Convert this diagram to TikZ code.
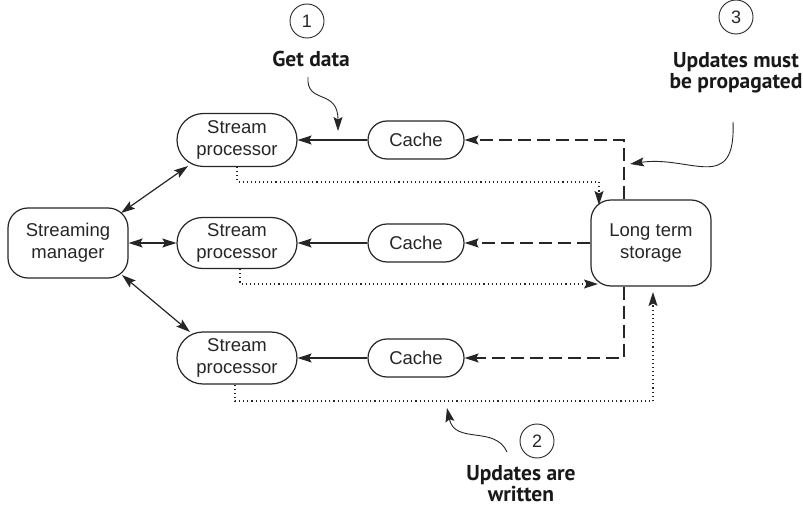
\documentclass[tikz,border=0pt]{standalone}
\usepackage{fontspec}
\setmainfont{Liberation Sans}
\newfontfamily\annfont{PT Sans}
\usetikzlibrary{arrows.meta,shapes.misc}
\begin{document}
\begin{tikzpicture}[x=1pt,y=-1pt,
  line width=1.2pt, draw=black!85,
  tip/.style={-{Stealth[length=14pt,width=9pt,inset=2.5pt]}},
  dtip/.style={{Stealth[length=14pt,width=9pt,inset=2.5pt]}-{Stealth[length=14pt,width=9pt,inset=2.5pt]}},
  pill/.style={draw, rounded rectangle, font=\fontsize{18.5}{20}\selectfont, align=center, inner sep=0pt, text=black!85},
  box/.style={draw, rounded corners=20pt, font=\fontsize{18.5}{20}\selectfont, align=center, inner sep=0pt, text=black!85},
  ann/.style={font=\annfont\bfseries\fontsize{21.5}{23}\selectfont, align=center, text=black!90},
  num/.style={draw, circle, minimum size=34pt, inner sep=0pt, line width=0.9pt, font=\fontsize{18}{20}\selectfont, text=black!85},
  dsh/.style={dash pattern=on 13pt off 6pt},
  dot/.style={line width=1.1pt, dash pattern=on 1.1pt off 3pt},
]
\useasboundingbox (0,0) rectangle (803,513);
% nodes
\node[box, minimum width=120pt, minimum height=70pt] (sm) at (68,243) {Streaming\\[2pt]manager};
\node[pill, minimum width=120pt, minimum height=53pt] (sp1) at (237,140) {Stream\\[2pt]processor};
\node[pill, minimum width=120pt, minimum height=51pt] (sp2) at (237,243) {Stream\\[2pt]processor};
\node[pill, minimum width=120pt, minimum height=52pt] (sp3) at (237,358) {Stream\\[2pt]processor};
\node[pill, minimum width=96pt, minimum height=38pt] (c1) at (416,140) {Cache};
\node[pill, minimum width=96pt, minimum height=38pt] (c2) at (416,243) {Cache};
\node[pill, minimum width=96pt, minimum height=38pt] (c3) at (416,358) {Cache};
\node[box, minimum width=120pt, minimum height=86pt] (lts) at (651,243) {Long term\\[2pt]storage};

% cache -> processor
\draw[tip] (c1.west) -- (sp1.east);
\draw[tip] (c2.west) -- (sp2.east);
\draw[tip] (c3.west) -- (sp3.east);

% storage -> cache (dashed)
\coordinate (d1) at (624,140);
\coordinate (d3) at (624,358);
\draw[tip, dsh] (lts.north -| d1) -- (d1) -- (c1.east);
\draw[tip, dsh] (lts.west) -- (c2.east);
\draw[tip, dsh] (lts.south -| d3) -- (d3) -- (c3.east);

% processor -> storage (dotted)
\coordinate (e1) at (237,182);
\coordinate (e1b) at (599,182);
\coordinate (e1c) at (599,205);
\draw[tip, dot] (sp1.south) -- (e1) -- (e1b) -- (e1c);
\coordinate (e2) at (240,284);
\coordinate (e2b) at (598,284);
\draw[tip, dot] (sp2.south -| e2) -- (e2) -- (e2b);
\coordinate (e3) at (235,401);
\coordinate (e3b) at (653,401);
\coordinate (e3c) at (653,292);
\draw[tip, dot] (sp3.south -| e3) -- (e3) -- (e3b) -- (e3c);

% manager <-> processors
\coordinate (m1) at (121,213);
\coordinate (p1) at (188,166);
\draw[dtip] (m1) -- (p1);
\draw[dtip] (sm.east) -- (sp2.west);
\coordinate (m3) at (122,275);
\coordinate (p3) at (190,332);
\draw[dtip] (m3) -- (p3);

% annotations
\node[num] (n1) at (307,21) {1};
\node[ann] (a1) at (311,59) {Get data};
\coordinate (a1s) at (308,77);
\coordinate (a1e) at (338,131);
\draw[tip, line width=0.9pt] (a1s) .. controls (306,105) and (338,88) .. (a1e);

\node[num] (n3) at (736,17) {3};
\node[ann] (a3) at (736,73) {Updates must\\[-2pt]be propagated};
\coordinate (a3s) at (733,122);
\coordinate (a3e) at (630,164);
\draw[tip, line width=0.9pt] (a3s) .. controls (736,195) and (690,155) .. (a3e);

\node[num] (n2) at (537,441) {2};
\node[ann] (a2) at (521,484) {Updates are\\[-2pt]written};
\coordinate (a2s) at (507,452);
\coordinate (a2e) at (447,408);
\draw[tip, line width=0.9pt] (a2s) .. controls (495,425) and (455,445) .. (a2e);
\end{tikzpicture}
\end{document}
